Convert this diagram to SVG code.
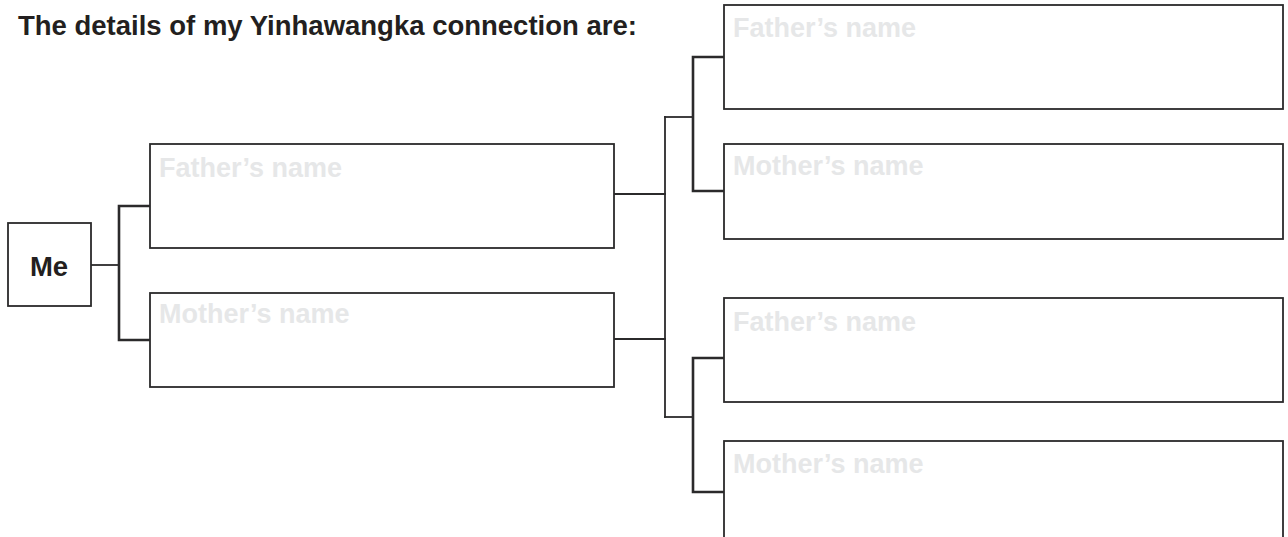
<svg xmlns="http://www.w3.org/2000/svg" width="1288" height="537" viewBox="0 0 1288 537">
  <style>
    .box { fill: #ffffff; stroke: #2b2a2b; stroke-width: 1.8; }
    .wire { fill: none; stroke: #2b2a2b; stroke-width: 1.8; stroke-linejoin: miter; stroke-linecap: square; }
    .trunk { stroke-width: 2.6; }
    .title { font-family: "Liberation Sans", Arial, sans-serif; font-weight: bold; font-size: 27.5px; fill: #231f20; }
    .hint { font-family: "Liberation Sans", Arial, sans-serif; font-weight: bold; font-size: 27px; fill: #e6e7e8; }
  </style>

  <rect width="1288" height="537" fill="#ffffff"/>

  <text class="title" x="18" y="35">The details of my Yinhawangka connection are:</text>

  <!-- connectors -->
  <g id="connectors">
    <path class="wire" d="M91 265 H119"/>
    <path class="wire trunk" d="M150 206 H119 V340 H150"/>
    <path class="wire" d="M614 194 H665"/>
    <path class="wire" d="M614 339 H665"/>
    <path class="wire" d="M665 117 V417"/>
    <path class="wire" d="M665 117 H693"/>
    <path class="wire" d="M665 417 H693"/>
    <path class="wire trunk" d="M724 57 H693 V191 H724"/>
    <path class="wire trunk" d="M724 358 H693 V492 H724"/>
  </g>

  <!-- person -->
  <g id="me">
    <rect class="box" x="8" y="223" width="83" height="83"/>
    <text class="title" x="49" y="276" text-anchor="middle">Me</text>
  </g>

  <!-- parents -->
  <g id="father">
    <rect class="box" x="150" y="144" width="464" height="104"/>
    <text class="hint" x="159" y="177">Father’s name</text>
  </g>
  <g id="mother">
    <rect class="box" x="150" y="293" width="464" height="94"/>
    <text class="hint" x="159" y="323">Mother’s name</text>
  </g>

  <!-- grandparents -->
  <g id="paternal-grandfather">
    <rect class="box" x="724" y="5" width="559" height="104"/>
    <text class="hint" x="733" y="37">Father’s name</text>
  </g>
  <g id="paternal-grandmother">
    <rect class="box" x="724" y="144" width="559" height="95"/>
    <text class="hint" x="733" y="175">Mother’s name</text>
  </g>
  <g id="maternal-grandfather">
    <rect class="box" x="724" y="298" width="559" height="104"/>
    <text class="hint" x="733" y="331">Father’s name</text>
  </g>
  <g id="maternal-grandmother">
    <rect class="box" x="724" y="441" width="559" height="110"/>
    <text class="hint" x="733" y="473">Mother’s name</text>
  </g>
</svg>
